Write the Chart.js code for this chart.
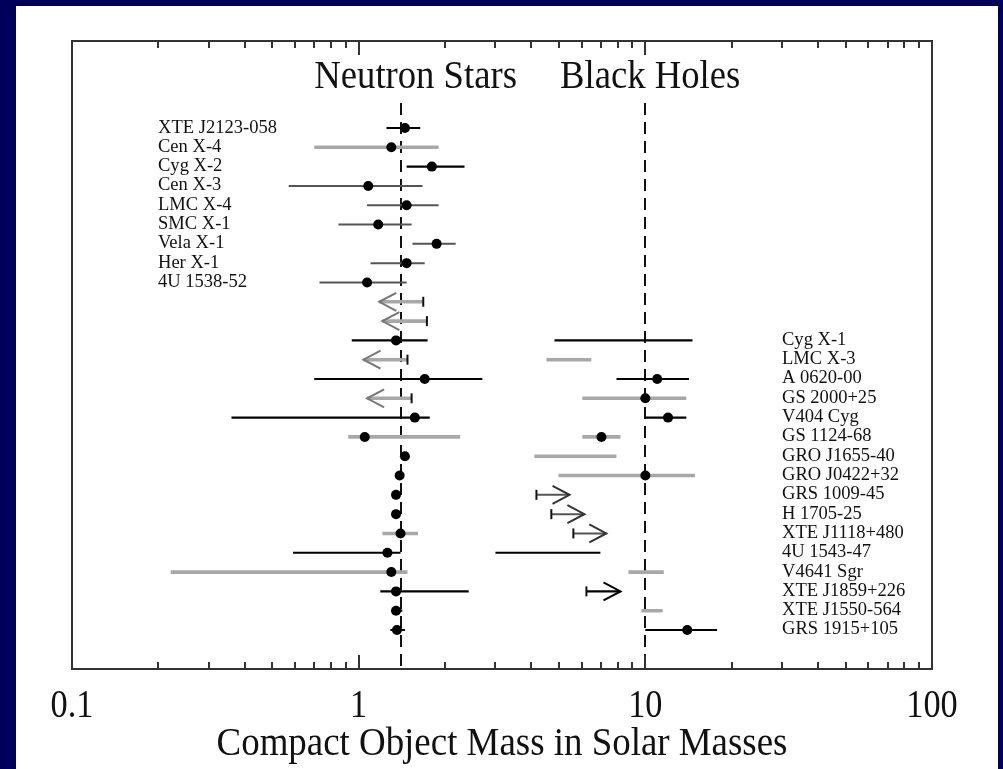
<!DOCTYPE html>
<html><head><meta charset="utf-8">
<script src="https://cdn.jsdelivr.net/npm/chart.js@4.4.0/dist/chart.umd.min.js"></script>
<style>
html,body{margin:0;padding:0;background:#00005a;width:1003px;height:769px;overflow:hidden}
#panel{position:absolute;left:16px;top:6px;width:982px;height:763px;background:#fff}
#wrap{position:absolute;left:0;top:0;width:1003px;height:769px}
</style></head><body>
<div id="panel"></div>
<div id="wrap"><canvas id="c" width="1003" height="769"></canvas></div>
<script>
// ---- data (masses in solar masses) ----
const nsNames = ["XTE J2123-058","Cen X-4","Cyg X-2","Cen X-3","LMC X-4","SMC X-1","Vela X-1","Her X-1","4U 1538-52"];
const nsLow   = [1.25,0.70,1.47,0.57,1.07,0.85,1.54,1.10,0.73, 1.18,1.21,0.946,1.04,0.70,1.07,0.36,0.92,1.42,1.37,1.33,1.33,1.21,0.59,0.221,1.19,1.30,1.29];
const nsHigh  = [1.64,1.90,2.34,1.67,1.90,1.53,2.18,1.70,1.47, 1.68,1.73,1.74,1.48,2.70,1.53,1.77,2.26,1.46,1.41,1.37,1.37,1.61,1.40,1.48,2.42,1.42,1.45];
const nsMass  = [1.45,1.30,1.80,1.08,1.47,1.17,1.87,1.47,1.07, null,null,1.35,null,1.70,null,1.57,1.05,1.45,1.39,1.35,1.35,1.40,1.26,1.30,1.35,1.35,1.36];
const nsStyle = ["k","g","k","d","d","d","d","d","d", "g","g","k","g","k","g","k","g","k","k","k","k","g","k","g","k","k","k"];
const nsKind  = ["bar","bar","bar","bar","bar","bar","bar","bar","bar", "upper","upper","bar","upper","bar","upper","bar","bar","bar","bar","bar","bar","bar","bar","bar","bar","bar","bar"];

const bhNames = ["Cyg X-1","LMC X-3","A 0620-00","GS 2000+25","V404 Cyg","GS 1124-68","GRO J1655-40","GRO J0422+32","GRS 1009-45","H 1705-25","XTE J1118+480","4U 1543-47","V4641 Sgr","XTE J1859+226","XTE J1550-564","GRS 1915+105"];
const bhLow   = [4.82,4.52,7.93,6.03,10.0,6.03,4.10,4.98,4.17,4.70,5.61,3.00,8.73,6.23,9.68,10.0];
const bhHigh  = [14.6,6.48,14.2,13.9,13.9,8.19,7.93,14.9,5.44,6.13,7.31,6.97,11.6,8.19,11.5,17.8];
const bhMass  = [null,null,11.0,10.0,12.0,7.03,null,10.0,null,null,null,null,null,null,null,14.0];
const bhStyle = ["k","g","k","g","k","g","g","g","d","d","d","k","g","k","g","k"];
const bhKind  = ["bar","bar","bar","bar","bar","bar","bar","bar","lower","lower","lower","bar","bar","lower","bar","bar"];
const bhFirstRow = 11;

const refMasses = [1.4, 10];
const majorTicks = [0.1, 1, 10, 100];
const tickLabels = ["0.1", "1", "10", "100"];
const minorTicks = [0.2,0.3,0.4,0.5,0.6,0.7,0.8,0.9,2,3,4,5,6,7,8,9,20,30,40,50,60,70,80,90];
const groupTitles = ["Neutron Stars", "Black Holes"];
const groupTitleMass = [1.58, 10.4];
const xTitle = "Compact Object Mass in Solar Masses";

// ---- build rows ----
const rows = [];
nsLow.forEach((v,i)=>rows.push({y:i, lo:v, hi:nsHigh[i], m:nsMass[i], s:nsStyle[i], k:nsKind[i]}));
bhLow.forEach((v,i)=>rows.push({y:bhFirstRow+i, lo:v, hi:bhHigh[i], m:bhMass[i], s:bhStyle[i], k:bhKind[i]}));

const styles = {
  k:{color:"#000000", width:2.2, head:"#000000"},
  d:{color:"#555555", width:2.0, head:"#333333"},
  g:{color:"#a8a8a8", width:3.6, head:"#777777"}
};
function segData(st){
  const out=[];
  rows.filter(r=>r.s===st).forEach(r=>{
    out.push({x:r.lo,y:r.y},{x:r.hi,y:r.y},{x:null,y:null});
  });
  return out;
}
const pointData = rows.filter(r=>r.m!==null).map(r=>({x:r.m,y:r.y}));

const datasets = [
  {label:"mass", data:pointData, showLine:false, pointRadius:5, pointBackgroundColor:"#000", pointBorderWidth:0},
  {label:"k", data:segData("k"), showLine:true, spanGaps:false, pointRadius:0, borderColor:styles.k.color, borderWidth:styles.k.width},
  {label:"d", data:segData("d"), showLine:true, spanGaps:false, pointRadius:0, borderColor:styles.d.color, borderWidth:styles.d.width},
  {label:"g", data:segData("g"), showLine:true, spanGaps:false, pointRadius:0, borderColor:styles.g.color, borderWidth:styles.g.width}
];

function txt(ctx,s,x,y,size,sx,align){
  ctx.save();
  ctx.font = size+'px "Liberation Serif", "Times New Roman", serif';
  ctx.fillStyle="#111";
  ctx.textBaseline="alphabetic";
  ctx.textAlign=align;
  ctx.translate(x,y); ctx.scale(sx,1);
  ctx.fillText(s,0,0);
  ctx.restore();
}

const decor = {
  id:"decor",
  beforeDatasetsDraw(chart){
    const {ctx, chartArea:a, scales:{x,y}} = chart;
    ctx.save();
    ctx.strokeStyle="#111"; ctx.lineWidth=2; ctx.setLineDash([12,7]);
    refMasses.forEach(m=>{
      const px = Math.round(x.getPixelForValue(m));
      ctx.beginPath(); ctx.moveTo(px, y.getPixelForValue(-1.3)); ctx.lineTo(px, a.bottom); ctx.stroke();
    });
    ctx.restore();
  },
  afterDatasetsDraw(chart){
    const {ctx, scales:{x,y}} = chart;
    ctx.save();
    rows.forEach(r=>{
      if(r.k==="bar") return;
      const st = styles[r.s];
      const py = y.getPixelForValue(r.y);
      let tip, base, dir;
      if(r.k==="upper"){ tip=x.getPixelForValue(r.lo); base=x.getPixelForValue(r.hi); dir=1; }
      else { tip=x.getPixelForValue(r.hi); base=x.getPixelForValue(r.lo); dir=-1; }
      ctx.strokeStyle = st.head; ctx.lineWidth=2;
      ctx.beginPath();
      ctx.moveTo(tip+dir*17, py-9); ctx.lineTo(tip, py); ctx.lineTo(tip+dir*17, py+9);
      ctx.stroke();
      ctx.strokeStyle="#111"; ctx.lineWidth=2;
      ctx.beginPath(); ctx.moveTo(base, py-5); ctx.lineTo(base, py+5); ctx.stroke();
    });
    ctx.restore();
  },
  afterDraw(chart){
    const {ctx, chartArea:a, scales:{x,y}} = chart;
    ctx.save();
    ctx.strokeStyle="#333"; ctx.lineWidth=2;
    ctx.strokeRect(a.left, a.top, a.right-a.left, a.bottom-a.top);
    ctx.beginPath();
    minorTicks.forEach(v=>{
      const px=Math.round(x.getPixelForValue(v));
      ctx.moveTo(px,a.top); ctx.lineTo(px,a.top+7);
      ctx.moveTo(px,a.bottom); ctx.lineTo(px,a.bottom-7);
    });
    majorTicks.forEach(v=>{
      const px=Math.round(x.getPixelForValue(v));
      ctx.moveTo(px,a.top); ctx.lineTo(px,a.top+14);
      ctx.moveTo(px,a.bottom); ctx.lineTo(px,a.bottom-14);
    });
    ctx.stroke();
    ctx.restore();
    majorTicks.forEach((v,i)=>txt(ctx,tickLabels[i],x.getPixelForValue(v),a.bottom+48,39,0.88,"center"));
    txt(ctx,xTitle,(a.left+a.right)/2,a.bottom+86,41,0.9,"center");
    groupTitles.forEach((t,i)=>txt(ctx,t,x.getPixelForValue(groupTitleMass[i]),a.top+47,39,0.94,"center"));
    nsNames.forEach((n,i)=>txt(ctx,n,158,y.getPixelForValue(i)+4.5,18,1.03,"left"));
    bhNames.forEach((n,i)=>txt(ctx,n,782,y.getPixelForValue(bhFirstRow+i)+4.5,18,1.03,"left"));
  }
};

new Chart(document.getElementById("c"), {
  type:"scatter",
  data:{datasets},
  options:{
    responsive:false, devicePixelRatio:1, animation:false,
    layout:{padding:{left:72,right:71,top:41,bottom:100}},
    plugins:{legend:{display:false}, tooltip:{enabled:false}},
    scales:{
      x:{type:"logarithmic", min:0.1, max:100, display:false},
      y:{type:"linear", min:-4.506, max:28.02, reverse:true, display:false}
    }
  },
  plugins:[decor]
});
</script>
</body></html>
